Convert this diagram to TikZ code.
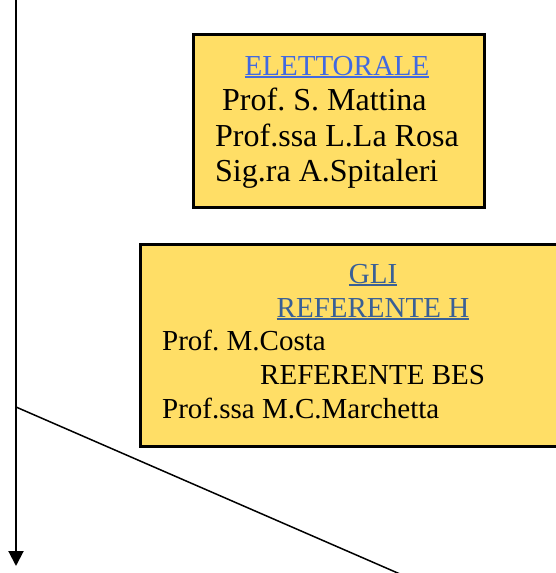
\documentclass[tikz,border=0pt]{standalone}
\usepackage{fontspec}
\setmainfont{Liberation Serif}
\usetikzlibrary{arrows.meta}
\frenchspacing
\definecolor{boxfill}{RGB}{255,222,102}
\definecolor{titleblue}{RGB}{65,105,225}
\definecolor{titlegray}{RGB}{58,96,150}
\newcommand{\ulin}[1]{\setbox0\hbox{#1}\rlap{\rule[-3pt]{\wd0}{2pt}}\box0}
\tikzset{>=stealth,
  panel/.style={draw, line width=3pt, fill=boxfill, inner sep=0pt},
  big/.style={font=\fontsize{32}{35}\selectfont, inner sep=0pt},
  small/.style={font=\fontsize{29}{34}\selectfont, inner sep=0pt}}

\begin{document}
\begin{tikzpicture}[x=1pt,y=-1pt]
\useasboundingbox (0,0) rectangle (556,573);
\coordinate (top) at (16,0);
\coordinate (bottom) at (16,566);
\coordinate (fork) at (16,407);
\coordinate (away) at (400,574);
\draw[line width=2pt, -{Triangle[length=15pt,width=15pt]}] (top) -- (bottom);
\draw[line width=1.5pt] (fork) -- (away);
% box elettorale
\node[panel, minimum width=291, minimum height=173, anchor=north west] (elett) at (192,33) {};
\node[small, anchor=base, titleblue] (elettT) at (337,75) {\ulin{ELETTORALE}};
\node[big, anchor=base west] (mattina) at (222,110) {Prof. S. Mattina};
\node[big, anchor=base west] (larosa) at (215,146) {Prof.ssa L.La Rosa};
\node[big, anchor=base west] (spitaleri) at (215,181) {Sig.ra A.Spitaleri};
% box GLI
\node[panel, minimum width=424, minimum height=202, anchor=north west] (gli) at (139,243) {};
\node[small, anchor=base, titlegray] (gliT) at (373,283) {\ulin{GLI}};
\node[small, anchor=base, titlegray] (refH) at (373,317) {\ulin{REFERENTE H}};
\node[small, anchor=base west] (costa) at (162,350) {Prof. M.Costa};
\node[small, anchor=base west] (refB) at (260,384) {REFERENTE BES};
\node[small, anchor=base west] (marchetta) at (162,418) {Prof.ssa M.C.Marchetta};
\end{tikzpicture}
\end{document}
